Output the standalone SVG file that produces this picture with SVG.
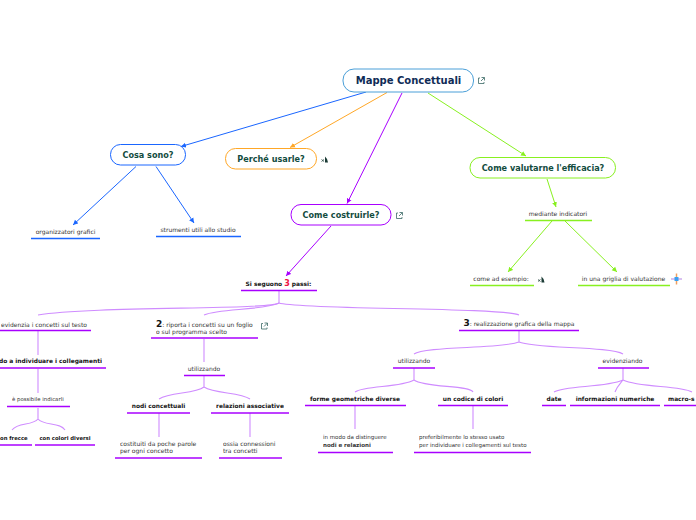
<svg xmlns="http://www.w3.org/2000/svg" width="696" height="520" viewBox="0 0 696 520">
<style>
text{font-family:"DejaVu Sans",Verdana,sans-serif;text-anchor:middle;fill:#333;opacity:.99}
.n{font-size:6px}
.b{font-size:5.9px;font-weight:bold;fill:#111}
.h{font-size:8.1px;font-weight:bold;fill:#0f4a3c}
.l{font-size:6px;text-anchor:start}
.s{font-size:5.5px;text-anchor:start}
.c{fill:none;stroke-width:1}
.p{fill:none;stroke:#cf8cff;stroke-width:1.1}
.u{stroke:#a800ff;stroke-width:1.5;fill:none}
.ub{stroke:#1a66ff;stroke-width:1.5;fill:none}
.ug{stroke:#88f020;stroke-width:1.5;fill:none}
.box{fill:#fff;stroke-width:1}
.i{fill:none;stroke:#3b6a66;stroke-width:.8}
.red{fill:#ee1144;font-size:8px;font-weight:bold}
</style>
<defs>
<marker id="ab" markerWidth="6" markerHeight="6" refX="5" refY="3" orient="auto"><path d="M0,0.5L5,3L0,5.500z" fill="#1a66ff"/></marker>
<marker id="ao" markerWidth="6" markerHeight="6" refX="5" refY="3" orient="auto"><path d="M0,0.5L5,3L0,5.500z" fill="#ffa726"/></marker>
<marker id="ap" markerWidth="6" markerHeight="6" refX="5" refY="3" orient="auto"><path d="M0,0.5L5,3L0,5.500z" fill="#a800ff"/></marker>
<marker id="ag" markerWidth="6" markerHeight="6" refX="5" refY="3" orient="auto"><path d="M0,0.5L5,3L0,5.500z" fill="#88f020"/></marker>
<g id="ext"><path class="i" d="M2,1H0.5V6.500H6V5M3.500,.5H6.500V3.500M6.300,.7L3,4"/></g>
<g id="mark"><path d="M0,5L2.500,3M0,3L2.500,5" stroke="#2b4b45" stroke-width=".8"/><path d="M3.500,0L5.500,2.500L6.500,6H3.500z" fill="#1b3b35"/></g>
</defs>
<g id="connectors">
<path class="c" stroke="#1a66ff" d="M366,92L181,146.500" marker-end="url(#ab)"/>
<path class="c" stroke="#ffa726" d="M387,92.500L290,147.500" marker-end="url(#ao)"/>
<path class="c" stroke="#a800ff" d="M402,93L347,203.500" marker-end="url(#ap)"/>
<path class="c" stroke="#88f020" d="M428,93L526,156" marker-end="url(#ag)"/>
<path class="c" stroke="#1a66ff" d="M136,166.500L73,225" marker-end="url(#ab)"/>
<path class="c" stroke="#1a66ff" d="M156,166.500L194,223" marker-end="url(#ab)"/>
<path class="c" stroke="#a800ff" d="M331,226L286,276" marker-end="url(#ap)"/>
<path class="c" stroke="#88f020" d="M547,179L556,207" marker-end="url(#ag)"/>
<path class="c" stroke="#88f020" d="M552,221L508,272" marker-end="url(#ag)"/>
<path class="c" stroke="#88f020" d="M565,221L617,272" marker-end="url(#ag)"/>
<path class="p" d="M279,291V303C270,310 90,306 38,315"/>
<path class="p" d="M279,303C260,311 220,308 204,315"/>
<path class="p" d="M279,303C300,310 500,307 519,315"/>
<path class="p" d="M38,331V355M38,369V393M38,408V419C32,426 18,422 12,430M38,419C44,426 60,422 65,430"/>
<path class="p" d="M204,339V362M204,376V387C195,394 170,392 159,399M204,387C215,394 240,392 250,399"/>
<path class="p" d="M159,413V437M250,413V437"/>
<path class="p" d="M519,331V342C500,349 425,346 414,354M519,342C535,349 610,346 623,354"/>
<path class="p" d="M414,368V380C400,388 365,385 355,392M414,380C425,388 470,385 473,392"/>
<path class="p" d="M355,406V429M473,406V429"/>
<path class="p" d="M623,368V380C605,388 565,385 554,392M623,380C620,384 617,386 615,392M623,380C640,388 680,385 692,392"/>
</g>
<g id="root"><rect class="box" stroke="#4a9fd8" x="343" y="69" width="130.500" height="23" rx="11"/><text x="408.500" y="84" style="font-size:10px;font-weight:bold;fill:#0d2a55">Mappe Concettuali</text><use href="#ext" x="478" y="77"/></g>
<g id="cosa"><rect class="box" stroke="#1a66ff" x="110.500" y="144.500" width="75" height="20.500" rx="10"/><text class="h" x="148" y="158">Cosa sono?</text></g>
<g id="perche"><rect class="box" stroke="#ffa726" x="225.500" y="148.500" width="91" height="20.500" rx="10"/><text class="h" x="271" y="162">Perché usarle?</text><use href="#mark" x="321.500" y="156.500"/></g>
<g id="costruirle"><rect class="box" stroke="#a800ff" x="291" y="204.500" width="100" height="20.500" rx="10"/><text class="h" x="341" y="218">Come costruirle?</text><use href="#ext" x="396" y="212"/></g>
<g id="valutare"><rect class="box" stroke="#88f020" x="470" y="157.500" width="145.500" height="20.500" rx="10"/><text class="h" x="543" y="171">Come valutarne l'efficacia?</text></g>
<g id="org"><text class="n" x="65.500" y="234">organizzatori grafici</text><path class="ub" d="M31,238.500H100"/></g>
<g id="strum"><text class="n" x="198" y="232">strumenti utili allo studio</text><path class="ub" d="M156,236.500H241"/></g>
<g id="mediante"><text class="n" x="558" y="216">mediante indicatori</text><path class="ug" d="M525,220.500H592"/></g>
<g id="esempio"><text class="n" x="501" y="281">come ad esempio:</text><path class="ug" d="M470,285.500H534"/><use href="#mark" x="538" y="276.500"/></g>
<g id="griglia"><text class="n" x="623.500" y="281">in una griglia di valutazione</text><path class="ug" d="M578,285.500H670"/><g id="spark"><path d="M671,279H682" stroke="#d8c0f0" stroke-width="2"/><path d="M676.500,273.500V284.500" stroke="#f0a060" stroke-width="1.500"/><rect x="674.500" y="277" width="4" height="4" fill="#3aa0f0"/></g></g>
<g id="passi"><text class="b" x="278.500" y="286">Si seguono <tspan class="red">3</tspan> passi:</text><path class="u" d="M241,290.500H317"/></g>
<g id="p1"><text class="n" x="44" y="326.500">evidenzia i concetti sul testo</text><path class="u" d="M0,330.500H91"/></g>
<g id="p2"><text class="l" x="156" y="326.500"><tspan style="font-size:9px;font-weight:bold;fill:#111">2</tspan>: riporta i concetti su un foglio</text><text class="l" x="156" y="333.500">o sul programma scelto</text><path class="u" d="M151,338H258"/><use href="#ext" x="261" y="322.500"/></g>
<g id="p3"><text class="n" x="519" y="326"><tspan style="font-size:9px;font-weight:bold;fill:#111">3</tspan>: realizzazione grafica della mappa</text><path class="u" d="M459,330.500H579"/></g>
<g id="individuare"><text class="b" style="text-anchor:end" x="102" y="363">do a individuare i collegamenti</text><path class="u" d="M0,368H106"/></g>
<g id="indicarli"><text class="s" x="12" y="401" style="font-size:5.400px">è possibile indicarli</text><path class="u" d="M7,406.500H70"/></g>
<g id="frecce"><text class="b" style="text-anchor:start;font-size:5.300px" x="0" y="440">on frecce</text><path class="u" d="M0,445H32"/></g>
<g id="colori"><text class="b" style="font-size:5.300px" x="65" y="440">con colori diversi</text><path class="u" d="M35,445H95"/></g>
<g id="utl1"><text class="n" x="204" y="371">utilizzando</text><path class="u" d="M184,375.500H225"/></g>
<g id="nodi"><text class="b" x="158.500" y="408">nodi concettuali</text><path class="u" d="M127,413H190"/></g>
<g id="relaz"><text class="b" x="250" y="408">relazioni associative</text><path class="u" d="M211,413H289"/></g>
<g id="costit"><text class="l" x="120" y="446">costituiti da poche parole</text><text class="l" x="120" y="453">per ogni concetto</text><path class="u" d="M115,458H202"/></g>
<g id="ossia"><text class="l" x="223" y="446">ossia connessioni</text><text class="l" x="223" y="453">tra concetti</text><path class="u" d="M219,458H282"/></g>
<g id="utl2"><text class="n" x="414" y="363">utilizzando</text><path class="u" d="M393,368H435"/></g>
<g id="forme"><text class="b" x="355" y="401">forme geometriche diverse</text><path class="u" d="M305,405.500H406"/></g>
<g id="codice"><text class="b" x="473" y="401">un codice di colori</text><path class="u" d="M438,405.500H508"/></g>
<g id="modo"><text class="s" x="323" y="439">in modo da distinguere</text><text class="s" x="323" y="447" style="font-weight:bold">nodi e relazioni</text><path class="u" d="M318,452.500H393"/></g>
<g id="pref"><text class="s" x="419" y="439">preferibilmente lo stesso usato</text><text class="s" x="419" y="447">per individuare i collegamenti sul testo</text><path class="u" d="M414,452.500H531"/></g>
<g id="evid"><text class="n" x="622.500" y="363">evidenziando</text><path class="u" d="M598,368H649"/></g>
<g id="date"><text class="b" x="554" y="401">date</text><path class="u" d="M542,405.500H566"/></g>
<g id="info"><text class="b" x="615" y="401">informazioni numeriche</text><path class="u" d="M570,405.500H660"/></g>
<g id="macro"><text class="b" style="text-anchor:start" x="668" y="401">macro-s</text><path class="u" d="M664,405.500H696"/></g>
</svg>
